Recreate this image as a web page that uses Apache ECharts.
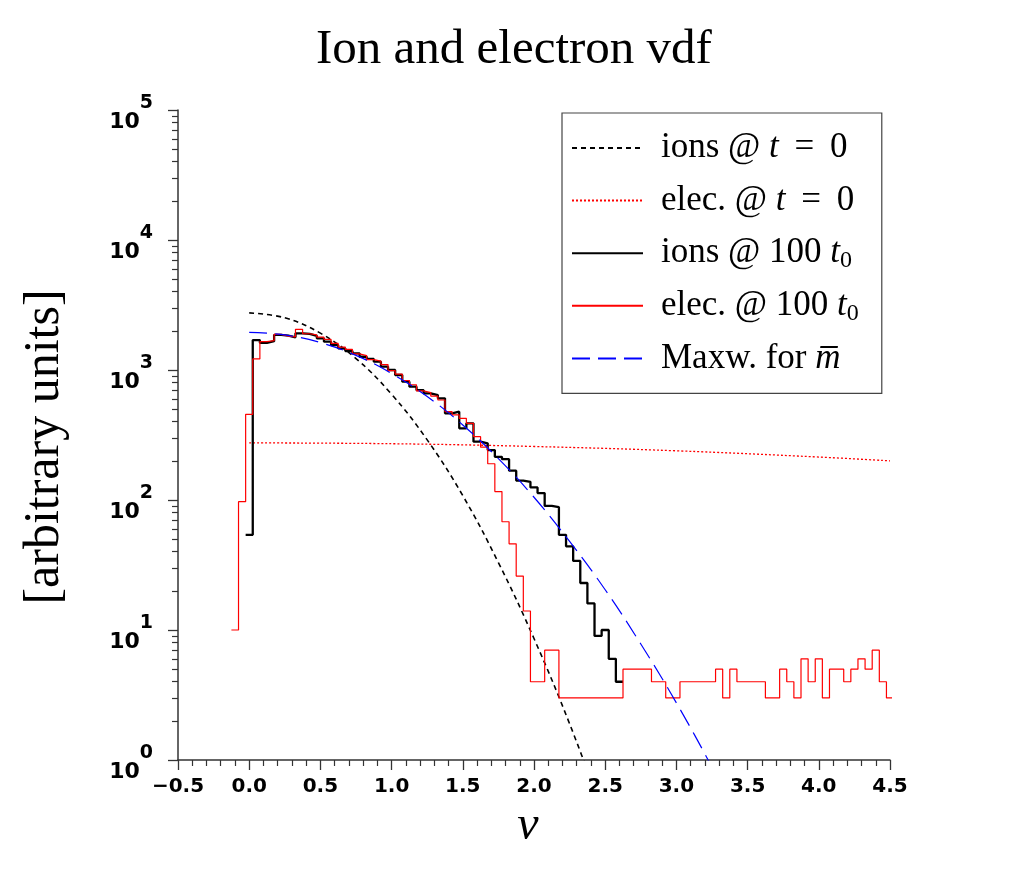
<!DOCTYPE html>
<html>
<head>
<meta charset="utf-8">
<script src="https://cdn.jsdelivr.net/npm/echarts@6/dist/echarts.min.js"></script>
<style>
html,body{margin:0;padding:0;background:#fff;}
#chart{width:1018px;height:870px;}
</style>
</head>
<body>
<div id="chart"></div>
<script>
// ---------- data ----------
var binWidth = 0.05;
var ionFirstCenter = 0.0;
var ionCounts = [54,1700,1620,1665,1860,1840,1785,1915,1895,1830,1754,1651,1556,1468,1400,1344,1265,1216,1158,1060,
  1000,915,813,744,700,662,640,606,464,478,356,389,281,273,242,215,206,168,141,138,
  125,113,90,88,54,44,34,23,16,9,10,6,4];
var elecFirstCenter = -0.1;
var elecCounts = [10,97,456,1216,1651,1680,1880,1820,1800,2056,1900,1860,1790,1720,1600,1500,1440,1330,1290,1200,
  1170,1100,990,930,830,770,690,670,630,588,478,451,425,389,307,255,190,116,68,46,
  26,14,4,4,7,7,3,3,3,3,3,3,3,3,3,5,5,5,5,4,
  4,3,3,4,4,4,4,4,5,3,5,4,4,4,4,3,3,5,4,3,
  6,4,6,3,5,5,4,5,6,5,7,4,3];
var ionsT0V = [0,0.25,0.5,0.75,1.0,1.25,1.5,1.75,2.0,2.25,2.5];
var ionsT0F = [2750,2520,1920,1225,650,290,108,33,8.6,1.9,0.35];
var elecT0V = [0,1,2,3,4,4.5];
var elecT0F = [275,271,258,239,214,200];
var maxwV = [0,0.25,0.5,0.75,1.0,1.25,1.5,1.75,2.0,2.25,2.5,2.75,3.0,3.25,3.5];
var maxwF = [1950,1860,1625,1295,940,625,378,208,105,48,20.4,7.8,2.75,0.88,0.26];
var seriesNames = ['ions @ t = 0','elec. @ t = 0','ions @ 100 t0','elec. @ 100 t0','Maxw. for m'];
var legendLabels = ['ions @ {i|t} \u2009=\u2009 0','elec. @ {i|t} \u2009=\u2009 0','ions @ 100 {i|t}{sub|0}','elec. @ 100 {i|t}{sub|0}','Maxw. for {i|m\u0305}'];

// ---------- helpers ----------
function stepPoints(firstCenter, counts){
  var pts = [];
  for (var i=0;i<counts.length;i++){
    var c = firstCenter + i*binWidth;
    pts.push([+(c - binWidth/2).toFixed(4), counts[i]]);
  }
  var lastC = firstCenter + (counts.length-1)*binWidth;
  pts.push([+(lastC + binWidth/2).toFixed(4), counts[counts.length-1]]);
  return pts;
}
function zip(a,b){ return a.map(function(x,i){return [x,b[i]];}); }

var chart = echarts.init(document.getElementById('chart'));
var serif = 'Liberation Serif';
var axisColor = '#333';
var option = {
  animation:false,
  backgroundColor:'#fff',
  title:{
    text:'Ion and electron vdf',
    left:316, top:26,
    padding:0,
    textStyle:{fontFamily:serif,fontWeight:'normal',fontSize:49,color:'#000'}
  },
  grid:{left:178,right:128,top:110,bottom:110},
  legend:{
    orient:'vertical',
    left:562, top:113,
    padding:[15,23,15,9],
    itemWidth:71, itemHeight:14, itemGap:12.6,
    borderColor:'#444', borderWidth:1.2,
    itemStyle:{opacity:0},
    data:seriesNames,
    formatter:function(name){ return legendLabels[seriesNames.indexOf(name)]; },
    textStyle:{
      fontFamily:serif, fontSize:35, lineHeight:40, color:'#000', padding:[0,0,0,13],
      rich:{
        i:{fontFamily:serif,fontStyle:'italic',fontSize:35,lineHeight:40,color:'#000'},
        sub:{fontFamily:serif,fontSize:24,lineHeight:22,verticalAlign:'bottom',color:'#000'}
      }
    }
  },
  xAxis:{
    type:'value', min:-0.5, max:4.5, interval:0.5,
    name:'v', nameLocation:'middle', nameGap:32,
    nameTextStyle:{fontFamily:serif,fontStyle:'italic',fontSize:48,color:'#000',padding:[0,12,0,0]},
    axisLine:{show:true,onZero:false,lineStyle:{color:axisColor,width:1.5}},
    axisTick:{show:true,length:10,lineStyle:{color:axisColor,width:1.3}},
    minorTick:{show:true,splitNumber:5,length:6,lineStyle:{color:axisColor,width:1.2}},
    splitLine:{show:false},
    axisLabel:{margin:17,fontFamily:'DejaVu Sans',fontWeight:'bold',fontSize:20,color:'#000',
      formatter:function(v){return (v<0?'\u2212':'')+Math.abs(v).toFixed(1);}}
  },
  yAxis:{
    type:'log', logBase:10, min:1, max:100000,
    name:'[arbitrary units]', nameLocation:'middle', nameGap:108,
    nameTextStyle:{fontFamily:serif,fontSize:50,color:'#000',padding:[0,24,0,0]},
    axisLine:{show:true,onZero:false,lineStyle:{color:axisColor,width:1.5}},
    axisTick:{show:true,length:10,lineStyle:{color:axisColor,width:1.3}},
    minorTick:{show:true,splitNumber:9,length:6,lineStyle:{color:axisColor,width:1.2}},
    splitLine:{show:false},
    axisLabel:{margin:25,color:'#000',padding:[7,0,0,0],
      formatter:function(v){return '{h|\u200b}{b|10}{s|'+Math.round(Math.log10(v))+'}';},
      rich:{
        h:{fontSize:10,lineHeight:40},
        b:{fontFamily:'DejaVu Sans',fontWeight:'bold',fontSize:22,lineHeight:24,verticalAlign:'bottom',color:'#000'},
        s:{fontFamily:'DejaVu Sans',fontWeight:'bold',fontSize:19,lineHeight:20,verticalAlign:'top',color:'#000'}
      }
    }
  },
  series:[
    {name:seriesNames[0],type:'line',data:zip(ionsT0V,ionsT0F),smooth:0.4,symbol:'none',
      lineStyle:{color:'#000',width:1.6,type:[5,4]},itemStyle:{color:'#000'},z:2},
    {name:seriesNames[1],type:'line',data:zip(elecT0V,elecT0F),smooth:0.4,symbol:'none',
      lineStyle:{color:'#ff0000',width:1.3,type:[2,2]},itemStyle:{color:'#ff0000'},z:2},
    {name:seriesNames[2],type:'line',data:stepPoints(ionFirstCenter,ionCounts),step:'end',symbol:'none',
      lineStyle:{color:'#000',width:2.3},itemStyle:{color:'#000'},z:3},
    {name:seriesNames[3],type:'line',data:stepPoints(elecFirstCenter,elecCounts),step:'end',symbol:'none',
      lineStyle:{color:'#ff0000',width:1.2},itemStyle:{color:'#ff0000'},z:4},
    {name:seriesNames[4],type:'line',data:zip(maxwV,maxwF),smooth:0.4,symbol:'none',
      lineStyle:{color:'#0000ff',width:1.2,type:[18,8]},itemStyle:{color:'#0000ff'},z:5}
  ]
};
chart.setOption(option);
</script>
</body>
</html>
